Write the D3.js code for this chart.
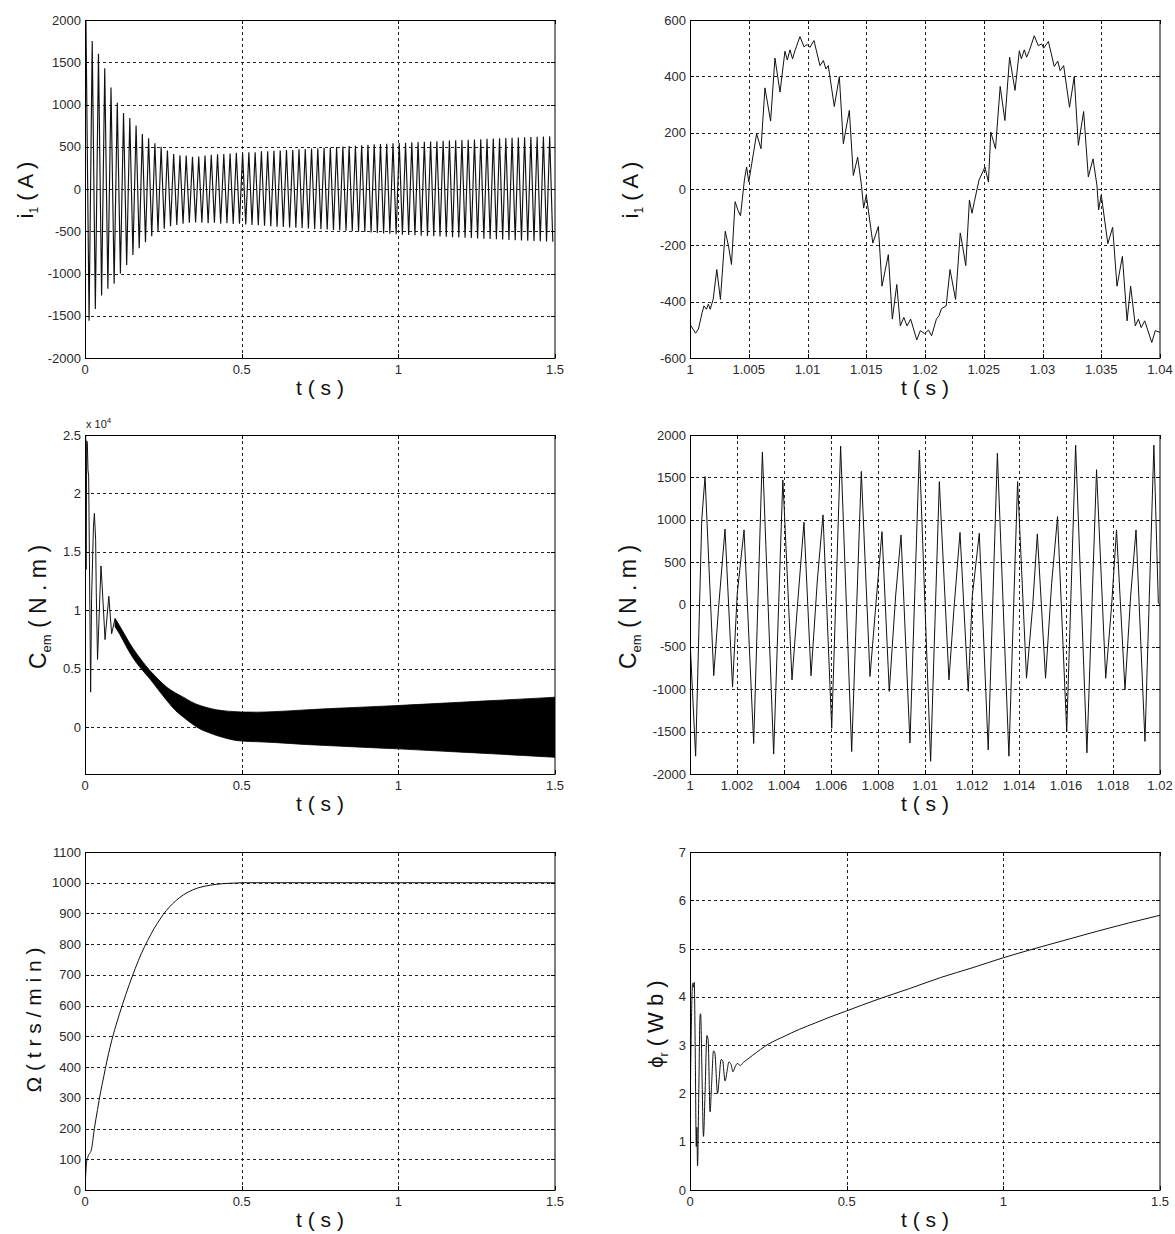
<!DOCTYPE html>
<html>
<head>
<meta charset="utf-8">
<script src="https://cdn.jsdelivr.net/npm/d3@7"></script>
<style>
  body { margin: 0; background: #fff; }
  svg { display: block; }
</style>
</head>
<body>
<svg id="fig" width="1175" height="1234"></svg>
<script>
// ---------- tick values and labels ----------
const xTicksFull = [0, 0.5, 1, 1.5];
const xLabelsFull = ["0", "0.5", "1", "1.5"];
const xTicksI1Zoom = [1, 1.005, 1.01, 1.015, 1.02, 1.025, 1.03, 1.035, 1.04];
const xLabelsI1Zoom = ["1", "1.005", "1.01", "1.015", "1.02", "1.025", "1.03", "1.035", "1.04"];
const xTicksCemZoom = [1, 1.002, 1.004, 1.006, 1.008, 1.01, 1.012, 1.014, 1.016, 1.018, 1.02];
const xLabelsCemZoom = ["1", "1.002", "1.004", "1.006", "1.008", "1.01", "1.012", "1.014", "1.016", "1.018", "1.02"];
const yTicksI1 = [-2000, -1500, -1000, -500, 0, 500, 1000, 1500, 2000];
const yLabelsI1 = ["-2000", "-1500", "-1000", "-500", "0", "500", "1000", "1500", "2000"];
const yTicksI1Zoom = [-600, -400, -200, 0, 200, 400, 600];
const yLabelsI1Zoom = ["-600", "-400", "-200", "0", "200", "400", "600"];
const yTicksCem = [0, 5000, 10000, 15000, 20000, 25000];
const yLabelsCem = ["0", "0.5", "1", "1.5", "2", "2.5"];
const yTicksCemZoom = [-2000, -1500, -1000, -500, 0, 500, 1000, 1500, 2000];
const yLabelsCemZoom = ["-2000", "-1500", "-1000", "-500", "0", "500", "1000", "1500", "2000"];
const yTicksSpeed = [0, 100, 200, 300, 400, 500, 600, 700, 800, 900, 1000, 1100];
const yLabelsSpeed = ["0", "100", "200", "300", "400", "500", "600", "700", "800", "900", "1000", "1100"];
const yTicksFlux = [0, 1, 2, 3, 4, 5, 6, 7];
const yLabelsFlux = ["0", "1", "2", "3", "4", "5", "6", "7"];

// ---------- stator current i1 (A), 0 - 1.5 s ----------
// successive half-cycle extrema, one every 10 ms starting at 3 ms
const i1InitialValue = 1100;
const i1FirstExtremumT = 0.003;
const i1HalfPeriod = 0.01;
const i1Extrema = [
  2000, -1560, 1750, -1420, 1600, -1260, 1430, -1180, 1200, -1120,
  1020, -1000, 900, -900, 840, -780, 750, -700, 650, -630,
  600, -560, 540, -510, 500, -470, 455, -440, 415, -425,
  400, -410, 395, -400, 380, -395, 385, -400, 395, -405,
  405, -400, 410, -410, 415, -405, 420, -415, 430, -410,
  425, -420, 435, -425, 435, -430, 445, -435, 445, -440,
  452, -445, 455, -450, 460, -455, 462, -458, 470, -462,
  474, -468, 478, -472, 482, -476, 488, -480, 492, -486,
  498, -490, 502, -495, 508, -500, 512, -505, 518, -510,
  522, -515, 528, -520, 532, -525, 536, -530, 540, -535,
  545, -540, 548, -545, 552, -548, 555, -552, 560, -556,
  563, -560, 566, -563, 570, -566, 573, -570, 576, -574,
  580, -578, 583, -581, 586, -585, 590, -588, 593, -592,
  597, -595, 600, -598, 603, -602, 606, -605, 610, -608,
  613, -612, 616, -615, 619, -618, 622, -621, 625, -624
];

// ---------- stator current i1 (A), detail 1.00 - 1.04 s (time in ms after 1 s) ----------
const i1ZoomMs = [
  0.0, 0.09, 0.47, 0.72, 1.03, 1.19, 1.40, 1.56, 1.72, 1.97, 2.28, 2.59, 3.00, 3.28, 3.53, 3.84, 4.09, 4.30, 4.63, 4.82,
  5.00, 5.67, 6.04, 6.38, 6.86, 7.23, 7.66, 8.08, 8.28, 8.51, 8.73, 8.93, 9.36, 9.70, 9.98, 10.21, 10.55, 11.06, 11.35, 11.57,
  11.77, 12.28, 12.71, 13.05, 13.56, 13.90, 14.27, 14.60, 14.78, 15.00, 15.56, 16.03, 16.34, 16.88, 17.22, 17.60, 17.90, 18.20, 18.47, 18.78,
  19.30, 19.60, 19.94, 20.30, 20.56, 20.97, 21.19, 21.40, 21.80, 22.13, 22.60, 23.00, 23.20, 23.47, 23.78, 24.00, 24.20, 24.60, 25.10, 25.40,
  25.60, 26.00, 26.40, 26.80, 27.20, 27.66, 28.03, 28.20, 28.45, 28.65, 28.88, 29.30, 29.64, 29.93, 30.10, 30.50, 31.00, 31.30, 31.50, 31.80,
  32.30, 32.70, 33.05, 33.50, 33.90, 34.30, 34.63, 34.78, 35.00, 35.56, 35.97, 36.34, 36.80, 37.20, 37.50, 37.90, 38.16, 38.40, 38.70, 39.30,
  39.60, 40.00
];
const i1ZoomV = [
  -490, -486, -512, -497, -439, -415, -427, -409, -427, -392, -286, -392, -150, -203, -268, -45, -76, -95, 32, 78,
  25, 196, 143, 359, 241, 465, 344, 489, 458, 494, 462, 491, 541, 505, 513, 503, 527, 438, 456, 426,
  438, 293, 399, 161, 279, 48, 113, 10, -68, -21, -192, -133, -345, -233, -462, -339, -486, -456, -486, -462,
  -536, -503, -513, -501, -521, -462, -450, -425, -415, -286, -392, -156, -203, -272, -39, -86, -45, 32, 78, 25,
  202, 143, 364, 243, 468, 350, 491, 462, 494, 468, 491, 544, 509, 515, 500, 524, 435, 454, 420, 438,
  290, 399, 155, 275, 43, 107, 14, -74, -21, -194, -136, -345, -239, -468, -345, -486, -462, -492, -468, -545,
  -503, -509
];

// ---------- electromagnetic torque Cem (N.m), 0 - 1.5 s ----------
// start-up oscillations
const cemStartT = [0, 0.002, 0.0035, 0.0055, 0.0075, 0.0095, 0.0117, 0.018, 0.021, 0.027, 0.030, 0.034, 0.036, 0.040, 0.051, 0.055, 0.064, 0.076, 0.085, 0.096];
const cemStartV = [2500, 25000, 13500, 24500, 24300, 22000, 21500, 3000, 11000, 17200, 18300, 16000, 11500, 5800, 13800, 12000, 7500, 11200, 8000, 9300];
// ripple band afterwards: upper and lower envelope
const cemBandT  = [0.096, 0.11, 0.122, 0.138, 0.154, 0.18, 0.207, 0.234, 0.261, 0.288, 0.314, 0.34, 0.367, 0.394, 0.42, 0.447, 0.473, 0.5, 0.55, 0.6, 0.7, 0.8, 0.9, 1.0, 1.1, 1.2, 1.3, 1.4, 1.5];
const cemBandHi = [9300, 8700, 8150, 7400, 6710, 5750, 4860, 4100, 3430, 2950, 2570, 2170, 1860, 1650, 1490, 1400, 1340, 1300, 1290, 1330, 1480, 1620, 1740, 1860, 2000, 2140, 2280, 2420, 2570];
const cemBandLo = [8600, 8000, 7400, 6600, 5900, 4980, 4140, 3200, 2290, 1450, 860, 330, -140, -450, -710, -920, -1090, -1180, -1240, -1300, -1470, -1600, -1730, -1850, -1990, -2130, -2270, -2420, -2570];

// ---------- electromagnetic torque Cem (N.m), detail 1.00 - 1.02 s (ms after 1 s) ----------
const cemZoomMs = [
  0.00, 0.24, 0.50, 0.64, 1.01, 1.21, 1.49, 1.81, 2.01, 2.30, 2.71, 3.08, 3.56, 3.95, 4.01, 4.34, 4.57, 4.85, 5.15, 5.42,
  5.66, 6.03, 6.41, 6.88, 7.29, 7.66, 7.88, 8.17, 8.48, 8.75, 8.98, 9.36, 9.76, 10.24, 10.61, 11.02, 11.23, 11.49, 11.84, 12.01,
  12.31, 12.69, 13.08, 13.57, 13.94, 14.32, 14.58, 14.78, 15.13, 15.39, 15.64, 16.03, 16.41, 16.89, 17.30, 17.69, 17.94, 18.15, 18.51, 18.75,
  18.98, 19.36, 19.74, 19.93, 20.00
];
const cemZoomV = [
  -415, -1790, 1000, 1510, -840, -60, 890, -975, 130, 880, -1640, 1800, -1765, 1470, 1130, -890, -24, 970, -840, 290,
  1057, -1460, 1870, -1735, 1570, -850, -100, 860, -1025, 100, 820, -1635, 1820, -1850, 1450, -890, -60, 850, -1025, 94,
  840, -1715, 1785, -1790, 1450, -870, -24, 833, -870, 250, 1037, -1500, 1880, -1750, 1590, -870, -16, 880, -1005, 100,
  880, -1615, 1880, 16, 0
];

// ---------- rotor speed Omega (trs/min) ----------
const speedT = [0, 0.005, 0.01, 0.02, 0.03, 0.04, 0.05, 0.06, 0.07, 0.08, 0.09, 0.10, 0.12, 0.14, 0.16, 0.18, 0.20, 0.22, 0.24, 0.26, 0.28, 0.30, 0.33, 0.36, 0.40, 0.44, 0.48, 0.50, 1.5];
const speedV = [0, 90, 110, 130, 200, 262, 320, 370, 420, 465, 505, 540, 605, 665, 720, 770, 812, 850, 882, 910, 932, 950, 970, 983, 992, 997, 999, 1000, 1000];

// ---------- rotor flux phi_r (Wb) ----------
const fluxT = [
  0, 0.004, 0.0085, 0.011, 0.0135, 0.017, 0.020, 0.022, 0.024, 0.028, 0.032, 0.034, 0.038, 0.043, 0.048, 0.054, 0.058, 0.064, 0.069, 0.075,
  0.079, 0.088, 0.093, 0.099, 0.104, 0.112, 0.118, 0.124, 0.131, 0.137, 0.144, 0.151, 0.156, 0.161, 0.17, 0.18, 0.20, 0.25, 0.30, 0.35,
  0.40, 0.45, 0.50, 0.60, 0.70, 0.80, 0.90, 1.00, 1.10, 1.20, 1.30, 1.40, 1.50
];
const fluxV = [
  1.4, 3.3, 4.28, 4.2, 4.3, 2.7, 0.9, 1.3, 0.5, 2.0, 3.6, 3.65, 2.5, 1.11, 2.0, 3.2, 3.1, 1.62, 2.2, 2.88,
  2.85, 2.0, 2.3, 2.7, 2.68, 2.26, 2.45, 2.65, 2.6, 2.45, 2.55, 2.62, 2.6, 2.58, 2.64, 2.69, 2.79, 3.02, 3.18, 3.33,
  3.46, 3.59, 3.71, 3.95, 4.17, 4.40, 4.60, 4.81, 5.00, 5.18, 5.36, 5.53, 5.69
];

// ---------- figure layout ----------
const FONT = '"Liberation Sans", Arial, Helvetica, sans-serif';
const cols = [{ x0: 85, x1: 555 }, { x0: 690, x1: 1160 }];
const rows = [{ y0: 20, y1: 358 }, { y0: 435, y1: 774 }, { y0: 852, y1: 1190 }];

const svg = d3.select("#fig");
svg.append("rect").attr("width", 1175).attr("height", 1234).attr("fill", "#fff");

const lineGen = (x, y) => d3.line().x(d => x(d.t)).y(d => y(d.v));

function drawAxes(cfg) {
  const { x0, x1 } = cols[cfg.col];
  const { y0, y1 } = rows[cfg.row];
  const x = d3.scaleLinear().domain(cfg.xDomain).range([x0, x1]);
  const y = d3.scaleLinear().domain(cfg.yDomain).range([y1, y0]);
  const g = svg.append("g").attr("class", "panel-" + cfg.id);
  const crisp = v => Math.round(v) + 0.5;

  svg.append("clipPath").attr("id", "clip-" + cfg.id)
    .append("rect").attr("x", x0).attr("y", y0).attr("width", x1 - x0).attr("height", y1 - y0);

  // dotted grid
  const grid = g.append("g").attr("stroke", "#222").attr("stroke-width", 1)
    .attr("stroke-dasharray", "3,3").attr("fill", "none");
  cfg.xTicks.forEach(v => {
    const px = crisp(x(v));
    if (px - 0.5 <= x0 + 1 || px - 0.5 >= x1 - 1) return;
    grid.append("line").attr("x1", px).attr("x2", px).attr("y1", y0).attr("y2", y1);
  });
  cfg.yTicks.forEach(v => {
    const py = crisp(y(v));
    if (py - 0.5 <= y0 + 1 || py - 0.5 >= y1 - 1) return;
    grid.append("line").attr("y1", py).attr("y2", py).attr("x1", x0).attr("x2", x1);
  });

  const plot = g.append("g").attr("clip-path", "url(#clip-" + cfg.id + ")");
  cfg.draw(plot, x, y);

  // box and inward ticks
  const frame = g.append("g").attr("stroke", "#000").attr("stroke-width", 1).attr("fill", "none");
  frame.append("rect").attr("x", x0 + 0.5).attr("y", y0 + 0.5)
    .attr("width", x1 - x0 - 0.5).attr("height", y1 - y0);
  cfg.xTicks.forEach(v => {
    const px = crisp(x(v));
    frame.append("line").attr("x1", px).attr("x2", px).attr("y1", y1).attr("y2", y1 - 4);
    frame.append("line").attr("x1", px).attr("x2", px).attr("y1", y0).attr("y2", y0 + 4);
  });
  cfg.yTicks.forEach(v => {
    const py = crisp(y(v));
    frame.append("line").attr("y1", py).attr("y2", py).attr("x1", x0).attr("x2", x0 + 4);
    frame.append("line").attr("y1", py).attr("y2", py).attr("x1", x1).attr("x2", x1 - 4);
  });

  // tick labels
  const lab = g.append("g").attr("font-family", FONT).attr("font-size", 13).attr("fill", "#2a2a2a");
  cfg.xTicks.forEach((v, i) => {
    lab.append("text").attr("x", x(v)).attr("y", y1 + 16)
      .attr("text-anchor", "middle").text(cfg.xLabels[i]);
  });
  cfg.yTicks.forEach((v, i) => {
    lab.append("text").attr("x", x0 - 4).attr("y", y(v) + 4.5)
      .attr("text-anchor", "end").text(cfg.yLabels[i]);
  });

  // x title
  g.append("text").attr("x", (x0 + x1) / 2).attr("y", y1 + 37)
    .attr("text-anchor", "middle").attr("font-family", FONT)
    .attr("font-size", 21).attr("fill", "#111").text("t ( s )");

  // y title (rotated, with subscript)
  const [tx, ty] = cfg.titlePos;
  const tt = g.append("text").attr("x", tx).attr("y", ty)
    .attr("transform", `rotate(-90, ${tx}, ${ty})`)
    .attr("text-anchor", "middle").attr("font-family", FONT).attr("fill", "#111");
  cfg.title.forEach(p => {
    tt.append("tspan").attr("font-size", p.size).attr("dy", p.dy || 0).text(p.text);
  });

  return { g, x, y, x0, x1, y0, y1 };
}

const stroke = "#111";

// stator current, full run
drawAxes({
  id: "i1", col: 0, row: 0,
  xDomain: [0, 1.5], xTicks: xTicksFull, xLabels: xLabelsFull,
  yDomain: [-2000, 2000], yTicks: yTicksI1, yLabels: yLabelsI1,
  titlePos: [33, 190],
  title: [{ text: "i", size: 22 }, { text: "1", size: 12, dy: 5 }, { text: " ( A )", size: 22, dy: -5 }],
  draw: (p, x, y) => {
    const pts = [{ t: 0, v: i1InitialValue }]
      .concat(i1Extrema.map((v, k) => ({ t: i1FirstExtremumT + k * i1HalfPeriod, v })));
    p.append("path").datum(pts).attr("d", lineGen(x, y))
      .attr("fill", "none").attr("stroke", stroke).attr("stroke-width", 1.15);
  }
});

// stator current, detail
drawAxes({
  id: "i1z", col: 1, row: 0,
  xDomain: [1, 1.04], xTicks: xTicksI1Zoom, xLabels: xLabelsI1Zoom,
  yDomain: [-600, 600], yTicks: yTicksI1Zoom, yLabels: yLabelsI1Zoom,
  titlePos: [638, 190],
  title: [{ text: "i", size: 22 }, { text: "1", size: 12, dy: 5 }, { text: " ( A )", size: 22, dy: -5 }],
  draw: (p, x, y) => {
    const pts = i1ZoomMs.map((ms, i) => ({ t: 1 + ms / 1000, v: i1ZoomV[i] }));
    p.append("path").datum(pts).attr("d", lineGen(x, y))
      .attr("fill", "none").attr("stroke", stroke).attr("stroke-width", 1);
  }
});

// torque, full run
const cemAx = drawAxes({
  id: "cem", col: 0, row: 1,
  xDomain: [0, 1.5], xTicks: xTicksFull, xLabels: xLabelsFull,
  yDomain: [-4000, 25000], yTicks: yTicksCem, yLabels: yLabelsCem,
  titlePos: [46, 607],
  title: [{ text: "C", size: 23 }, { text: "em", size: 13, dy: 5 }, { text: " ( N . m )", size: 23, dy: -5 }],
  draw: (p, x, y) => {
    const band = cemBandT.map((t, i) => ({ t, hi: cemBandHi[i], lo: cemBandLo[i] }));
    p.append("path").datum(band)
      .attr("d", d3.area().x(d => x(d.t)).y0(d => y(d.lo)).y1(d => y(d.hi)).curve(d3.curveMonotoneX))
      .attr("fill", "#000").attr("stroke", "#000").attr("stroke-width", 0.8);
    const pts = cemStartT.map((t, i) => ({ t, v: cemStartV[i] }));
    p.append("path").datum(pts).attr("d", lineGen(x, y))
      .attr("fill", "none").attr("stroke", stroke).attr("stroke-width", 1);
  }
});
// exponent note above the torque axis
const expo = cemAx.g.append("text").attr("x", cemAx.x0 + 1).attr("y", cemAx.y0 - 7)
  .attr("font-family", FONT).attr("fill", "#222");
expo.append("tspan").attr("font-size", 11).text("x 10");
expo.append("tspan").attr("font-size", 8).attr("dy", -5).text("4");

// torque, detail
drawAxes({
  id: "cemz", col: 1, row: 1,
  xDomain: [1, 1.02], xTicks: xTicksCemZoom, xLabels: xLabelsCemZoom,
  yDomain: [-2000, 2000], yTicks: yTicksCemZoom, yLabels: yLabelsCemZoom,
  titlePos: [636, 607],
  title: [{ text: "C", size: 23 }, { text: "em", size: 13, dy: 5 }, { text: " ( N . m )", size: 23, dy: -5 }],
  draw: (p, x, y) => {
    const pts = cemZoomMs.map((ms, i) => ({ t: 1 + ms / 1000, v: cemZoomV[i] }));
    p.append("path").datum(pts).attr("d", lineGen(x, y))
      .attr("fill", "none").attr("stroke", stroke).attr("stroke-width", 1);
  }
});

// rotor speed
drawAxes({
  id: "speed", col: 0, row: 2,
  xDomain: [0, 1.5], xTicks: xTicksFull, xLabels: xLabelsFull,
  yDomain: [0, 1100], yTicks: yTicksSpeed, yLabels: yLabelsSpeed,
  titlePos: [41, 1020],
  title: [{ text: "\u03A9 ( t r s / m i n )", size: 21 }],
  draw: (p, x, y) => {
    const pts = speedT.map((t, i) => ({ t, v: speedV[i] }));
    p.append("path").datum(pts).attr("d", lineGen(x, y).curve(d3.curveMonotoneX))
      .attr("fill", "none").attr("stroke", stroke).attr("stroke-width", 1);
  }
});

// rotor flux
drawAxes({
  id: "flux", col: 1, row: 2,
  xDomain: [0, 1.5], xTicks: xTicksFull, xLabels: xLabelsFull,
  yDomain: [0, 7], yTicks: yTicksFlux, yLabels: yLabelsFlux,
  titlePos: [663, 1024],
  title: [{ text: "\u03D5", size: 20 }, { text: "r", size: 12, dy: 5 }, { text: " ( W b )", size: 22, dy: -5 }],
  draw: (p, x, y) => {
    const pts = fluxT.map((t, i) => ({ t, v: fluxV[i] }));
    p.append("path").datum(pts).attr("d", lineGen(x, y).curve(d3.curveMonotoneX))
      .attr("fill", "none").attr("stroke", stroke).attr("stroke-width", 1);
  }
});
</script>
</body>
</html>
